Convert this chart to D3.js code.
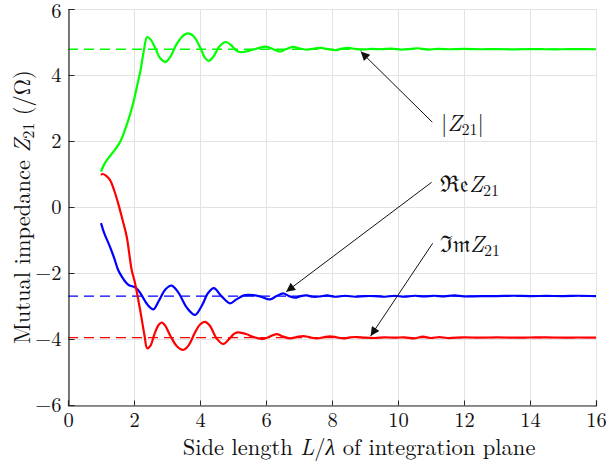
<!DOCTYPE html>
<html>
<head>
<meta charset="utf-8">
<script src="https://cdn.jsdelivr.net/npm/d3@7"></script>
<style>
    body { margin: 0; background: #fff; }
    svg { display: block; }
</style>
</head>
<body>
<div id="chart"></div>
<script>
// x ticks / y ticks
let xTicks = [0, 2, 4, 6, 8, 10, 12, 14, 16];
let yTicks = [-6, -4, -2, 0, 2, 4, 6];

// |Z21|  (green)
let absX = [1.0, 1.1, 1.2, 1.3, 1.42, 1.55, 1.65, 1.8, 1.9, 2.0, 2.1, 2.2, 2.3, 2.4, 2.5, 2.65, 2.8, 2.96, 3.1, 3.3, 3.5, 3.65, 3.8, 4.0, 4.15, 4.27, 4.4, 4.6, 4.78, 4.95, 5.1, 5.25, 5.5, 5.8, 6.0, 6.2, 6.42, 6.6, 6.8, 7.0, 7.25, 7.45, 7.65, 7.85, 8.1, 8.3, 8.5, 8.7, 8.9, 9.2, 9.5, 9.8, 10.1, 10.4, 10.6, 10.9, 11.2, 11.6, 12, 12.5, 13, 13.5, 14, 14.5, 15, 15.5, 16];
let absZ = [1.07, 1.3, 1.45, 1.58, 1.73, 1.92, 2.13, 2.55, 2.87, 3.25, 3.7, 4.15, 4.75, 5.15, 5.08, 4.8, 4.5, 4.40, 4.55, 4.95, 5.2, 5.26, 5.18, 4.85, 4.52, 4.43, 4.55, 4.88, 5.0, 4.9, 4.74, 4.69, 4.74, 4.82, 4.86, 4.79, 4.71, 4.78, 4.85, 4.81, 4.77, 4.80, 4.82, 4.79, 4.75, 4.80, 4.82, 4.79, 4.77, 4.79, 4.78, 4.80, 4.77, 4.79, 4.81, 4.77, 4.79, 4.78, 4.79, 4.78, 4.785, 4.775, 4.785, 4.78, 4.78, 4.785, 4.78];

// Re Z21  (blue)
let reX = [1.0, 1.1, 1.27, 1.4, 1.52, 1.63, 1.75, 1.85, 2.03, 2.13, 2.23, 2.4, 2.59, 2.75, 2.95, 3.14, 3.35, 3.6, 3.85, 4.05, 4.25, 4.42, 4.65, 4.91, 5.1, 5.36, 5.62, 5.85, 6.12, 6.32, 6.52, 6.7, 6.88, 7.05, 7.23, 7.43, 7.64, 7.85, 8.1, 8.4, 8.7, 9.0, 9.3, 9.6, 9.9, 10.2, 10.5, 10.8, 11.1, 11.4, 11.7, 12, 12.5, 13, 13.5, 14, 14.5, 15, 15.5, 16];
let reZ = [-0.49, -0.8, -1.2, -1.55, -1.91, -2.11, -2.28, -2.37, -2.43, -2.52, -2.67, -2.95, -3.1, -2.85, -2.5, -2.38, -2.6, -3.05, -3.27, -3.0, -2.6, -2.46, -2.7, -2.92, -2.8, -2.67, -2.67, -2.72, -2.80, -2.7, -2.62, -2.7, -2.75, -2.7, -2.68, -2.72, -2.71, -2.68, -2.72, -2.69, -2.72, -2.70, -2.70, -2.72, -2.69, -2.72, -2.69, -2.71, -2.69, -2.71, -2.68, -2.71, -2.70, -2.70, -2.69, -2.70, -2.695, -2.70, -2.69, -2.70];

// Im Z21  (red)
let imX = [1.0, 1.05, 1.15, 1.27, 1.4, 1.52, 1.65, 1.78, 1.93, 2.03, 2.2, 2.32, 2.4, 2.5, 2.62, 2.75, 2.84, 2.95, 3.1, 3.3, 3.49, 3.65, 3.85, 4.0, 4.15, 4.3, 4.5, 4.71, 4.9, 5.05, 5.16, 5.4, 5.65, 5.92, 6.1, 6.32, 6.5, 6.73, 6.93, 7.13, 7.34, 7.54, 7.74, 7.94, 8.14, 8.34, 8.55, 8.75, 9.0, 9.3, 9.6, 9.9, 10.2, 10.5, 10.75, 11.0, 11.25, 11.5, 12, 12.5, 13, 13.5, 14, 14.5, 15, 15.5, 16];
let imZ = [0.97, 1.0, 0.95, 0.82, 0.5, 0.11, -0.38, -0.9, -1.91, -2.3, -3.2, -3.9, -4.28, -4.2, -3.85, -3.57, -3.5, -3.6, -3.9, -4.22, -4.33, -4.2, -3.8, -3.56, -3.48, -3.6, -3.98, -4.15, -3.98, -3.83, -3.80, -3.85, -3.95, -4.0, -3.93, -3.85, -3.92, -3.98, -3.94, -3.91, -3.95, -3.98, -3.95, -3.92, -3.95, -3.98, -3.95, -3.94, -3.96, -3.97, -3.95, -3.96, -3.95, -3.98, -3.93, -3.97, -3.94, -3.97, -3.95, -3.96, -3.95, -3.96, -3.955, -3.95, -3.96, -3.955, -3.96];

// converged values (dashed)
let refValues = [4.78, -2.70, -3.96];
let refColors = ["#00ff00", "#0000ff", "#ff0000"];

// annotations: arrow tail (x1,y1) -> tip (x2,y2), in data units
let annoTail = [[11.04, 2.57], [11.02, 0.75], [11.05, -1.1]];
let annoTip = [[8.87, 4.71], [6.61, -2.57], [9.17, -3.91]];

let fontFam = '"Latin Modern Roman", "CMU Serif", "Liberation Serif", serif';
let width = 606, height = 464;
let margin = {top: 9, left: 68, right: 10, bottom: 59};
let plotW = 528, plotH = 396;

let svg = d3.select("#chart").append("svg")
    .attr("width", width)
    .attr("height", height)
    .attr("font-family", fontFam);

let x = d3.scaleLinear().domain([0, 16]).range([margin.left, margin.left + plotW]);
let y = d3.scaleLinear().domain([-6, 6]).range([margin.top + plotH, margin.top]);

// grid
svg.append("g").selectAll("line.gx")
    .data(xTicks)
    .enter().append("line")
    .attr("x1", d => x(d) + 0.5).attr("x2", d => x(d) + 0.5)
    .attr("y1", y(-6)).attr("y2", y(6))
    .attr("stroke", "#e3e3e3").attr("stroke-width", 1);
svg.append("g").selectAll("line.gy")
    .data(yTicks)
    .enter().append("line")
    .attr("x1", x(0)).attr("x2", x(16))
    .attr("y1", d => y(d) + 0.5).attr("y2", d => y(d) + 0.5)
    .attr("stroke", "#e3e3e3").attr("stroke-width", 1);

// dashed reference lines
svg.append("g").selectAll("line")
    .data(refValues)
    .enter().append("line")
    .attr("x1", x(0)).attr("x2", x(16))
    .attr("y1", d => y(d)).attr("y2", d => y(d))
    .attr("stroke", (d, i) => refColors[i])
    .attr("stroke-width", 1.3)
    .attr("stroke-dasharray", "10,6");

// curves
let line = d3.line()
    .x(d => x(d[0]))
    .y(d => y(d[1]))
    .curve(d3.curveCatmullRom.alpha(0.5));

let series = [
    {xs: absX, ys: absZ, color: "#00ff00"},
    {xs: reX, ys: reZ, color: "#0000ff"},
    {xs: imX, ys: imZ, color: "#ff0000"}
];

series.forEach(s => {
    svg.append("path")
        .datum(d3.zip(s.xs, s.ys))
        .attr("d", line)
        .attr("fill", "none")
        .attr("stroke", s.color)
        .attr("stroke-width", 2.2)
        .attr("stroke-linejoin", "round");
});

// axes
let axisColor = "#262626";
let xAxis = d3.axisBottom(x).tickValues(xTicks).tickSize(-5).tickPadding(7).tickFormat(d3.format("d"));
let yAxis = d3.axisLeft(y).tickValues(yTicks).tickSize(-6).tickPadding(7).tickFormat(d => d < 0 ? "\u2212" + Math.abs(d) : d);

let gx = svg.append("g")
    .attr("transform", `translate(0, ${y(-6) + 0.5})`)
    .call(xAxis);
let gy = svg.append("g")
    .attr("transform", `translate(${x(0) + 0.5}, 0)`)
    .call(yAxis);

[gx, gy].forEach(g => {
    g.attr("font-family", fontFam).attr("font-size", 20.5);
    g.select(".domain").attr("stroke", axisColor).attr("stroke-width", 1.2);
    g.selectAll(".tick line").attr("stroke", axisColor);
    g.selectAll("text").attr("fill", "#111");
});
// keep the top label inside the picture
gy.selectAll(".tick text").filter(d => d === 6).attr("dy", "0.42em");

// axis titles
let xt = svg.append("text")
    .attr("x", 359)
    .attr("y", 455)
    .attr("text-anchor", "middle")
    .attr("font-size", 22.5)
    .attr("fill", "#111");
xt.append("tspan").text("Side length ");
xt.append("tspan").attr("font-style", "italic").text("L");
xt.append("tspan").text("/");
xt.append("tspan").attr("font-style", "italic").text("\u03bb");
xt.append("tspan").text(" of integration plane");

let yt = svg.append("text")
    .attr("transform", `translate(30, ${(y(6) + y(-6)) / 2}) rotate(-90)`)
    .attr("text-anchor", "middle")
    .attr("font-size", 22.5)
    .attr("fill", "#111");
yt.append("tspan").text("Mutual impedance ");
yt.append("tspan").attr("font-style", "italic").text("Z");
yt.append("tspan").attr("font-size", 16).attr("dy", 4).text("21");
yt.append("tspan").attr("dy", -4).text(" (/\u03a9)");

// annotations
svg.append("defs").append("marker")
    .attr("id", "arrow")
    .attr("viewBox", "0 0 10 10")
    .attr("refX", 10).attr("refY", 5)
    .attr("markerWidth", 12).attr("markerHeight", 9)
    .attr("markerUnits", "userSpaceOnUse")
    .attr("orient", "auto")
    .append("path")
    .attr("d", "M0,0 L10,5 L0,10 z")
    .attr("fill", "#111");

svg.append("g").selectAll("line")
    .data(annoTail)
    .enter().append("line")
    .attr("x1", d => x(d[0])).attr("y1", d => y(d[1]))
    .attr("x2", (d, i) => x(annoTip[i][0])).attr("y2", (d, i) => y(annoTip[i][1]))
    .attr("stroke", "#111")
    .attr("stroke-width", 1)
    .attr("marker-end", "url(#arrow)");

let labelPos = [[441, 131], [440, 192], [440, 252]];
let labelPre = ["|", "\u211c\ud835\udd22", "\u2111\ud835\udd2a"];
labelPos.forEach((p, i) => {
    let t = svg.append("text")
        .attr("x", p[0]).attr("y", p[1])
        .attr("font-size", 23)
        .attr("fill", "#111");
    t.append("tspan").text(labelPre[i]);
    t.append("tspan").attr("font-style", "italic").text("Z");
    t.append("tspan").attr("font-size", 16).attr("dy", 4).text("21");
    if (i === 0) t.append("tspan").attr("dy", -4).text("|");
});
</script>
</body>
</html>
